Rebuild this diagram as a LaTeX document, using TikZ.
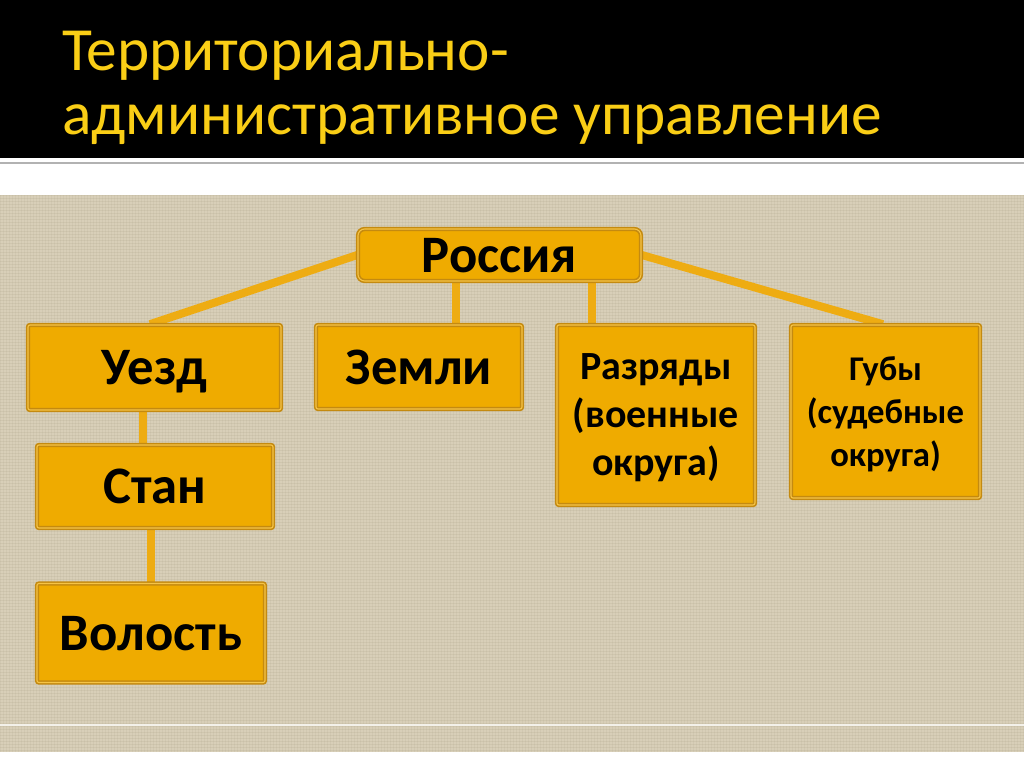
\documentclass[tikz,border=0pt]{standalone}
\usepackage{fontspec}
\setmainfont{Carlito}
\usetikzlibrary{backgrounds,calc}
\definecolor{boxfill}{RGB}{239,171,0}
\definecolor{boxedge}{RGB}{196,138,16}
\definecolor{boxinner}{RGB}{246,196,70}
\definecolor{linkcol}{RGB}{238,172,18}
\definecolor{linen}{RGB}{216,207,184}
\definecolor{linenline}{RGB}{165,152,128}
\definecolor{titlecol}{RGB}{250,206,22}
\tikzset{
  orgbox/.style 2 args={draw=boxedge, double=boxinner, double distance=0.8pt,
    line width=1.2pt, fill=boxfill, rounded corners=1.5pt, inner sep=0pt,
    minimum width=#1*0.75pt, minimum height=#2*0.75pt, align=center,
    text depth=0pt,
    font=\bfseries\fontsize{39.5}{44}\selectfont, text=black},
  link/.style={draw=linkcol, line width=6pt},
  titletext/.style={anchor=base west, inner sep=0pt, text=titlecol,
    font=\fontsize{46}{52}\selectfont}
}
\begin{document}
\begin{tikzpicture}[x=0.75pt,y=-0.75pt]
\useasboundingbox (0,0) rectangle (1024,767);
% title
\node[titletext] (title1) at (62,70) {Территориально-};
\node[titletext] (title2) at (62,134) {административное управление};
% boxes
\node[orgbox={283}{52}, rounded corners=5pt] (ros) at (499.5,255) {Россия};
\node[orgbox={253}{85}] (uezd) at (154.5,367.5) {Уезд};
\node[orgbox={206}{84}] (zem) at (419,367) {Земли};
\node[orgbox={198}{180}, text depth=-5pt, font=\bfseries\fontsize{30}{36}\selectfont] (razr) at (656,415) {Разряды\\(военные\\округа)};
\node[orgbox={189}{173}, text depth=-6pt, font=\bfseries\fontsize{26}{32}\selectfont] (gub) at (885.5,411.5) {Губы\\(судебные\\округа)};
\node[orgbox={236}{83}] (stan) at (155,486.5) {Стан};
\node[orgbox={228}{99}] (vol) at (151,633) {Волость};
% connector start points
\coordinate (rz) at ($(ros.south)+(-43.5,0)$);
\coordinate (rr) at ($(ros.south)+(92.5,0)$);
\coordinate (us) at ($(uezd.south)+(-11.5,0)$);
\coordinate (sv) at ($(stan.south)+(-4,0)$);
\begin{scope}[on background layer]
  \fill[black] (0,0) rectangle (1024,158);
  \fill[white] (0,158) rectangle (1024,767);
  \draw[color=black!30, line width=1.5pt] (0,163) -- (1024,163);
  \fill[linen] (0,195) rectangle (1024,752);
  \begin{scope}
    \clip (0,195) rectangle (1024,752);
    \foreach \i in {0,...,185} {
      \draw[linenline, opacity=0.16, line width=0.6pt] (0,195+3*\i) -- (1024,195+3*\i);
    }
    \foreach \j in {0,...,341} {
      \draw[linenline, opacity=0.12, line width=0.6pt] (3*\j,195) -- (3*\j,752);
    }
  \end{scope}
  \draw[color=white!70!linen, line width=1pt] (0,725) -- (1024,725);
  % connectors
  \draw[link] (ros.west) -- ([xshift=-3.4pt]uezd.north);
  \draw[link] (ros.east) -- ([xshift=-1.9pt]gub.north);
  \draw[link] (rz) -- (rz |- zem.north);
  \draw[link] (rr) -- (rr |- razr.north);
  \draw[link] (us) -- (us |- stan.north);
  \draw[link] (sv) -- (sv |- vol.north);
\end{scope}
\end{tikzpicture}
\end{document}
